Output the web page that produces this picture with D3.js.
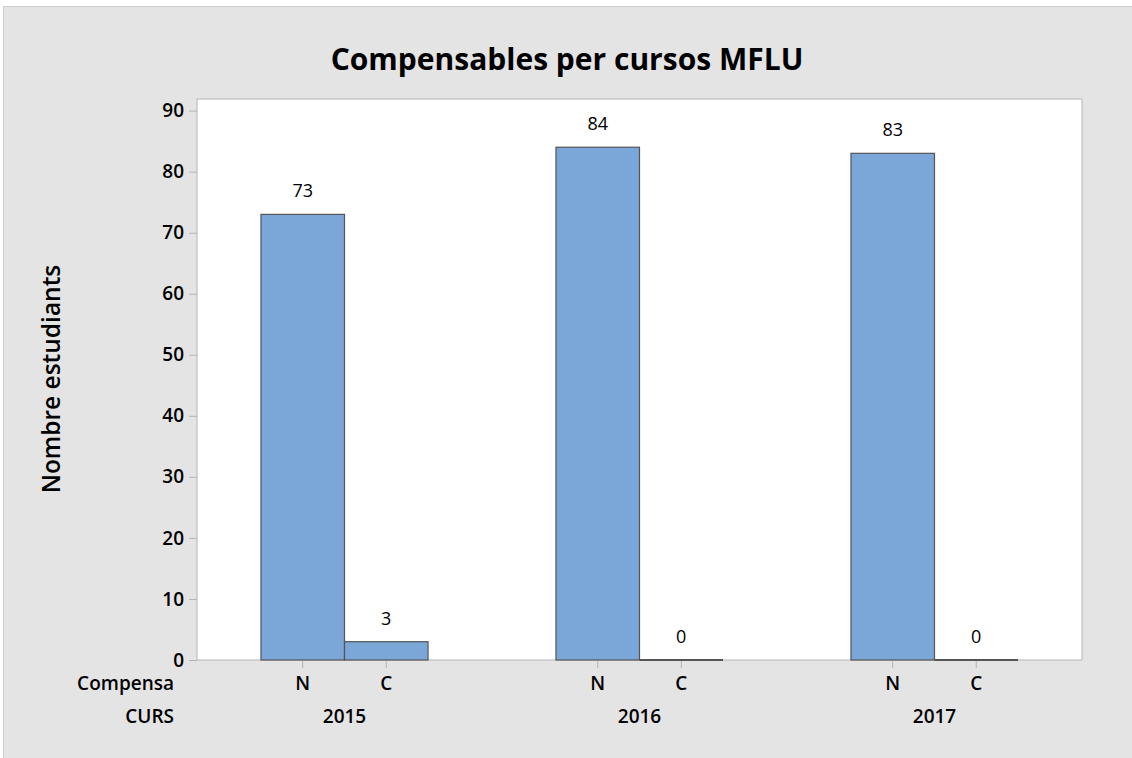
<!DOCTYPE html>
<meta charset="utf-8">
<style>
body { margin: 0; background: #fff; }
text { font-family: "Open Sans", "Noto Sans", sans-serif; fill: #000; }
</style>
<body>
<svg width="1132" height="758"></svg>
<script src="https://cdn.jsdelivr.net/npm/d3@7/dist/d3.min.js"></script>
<script>

var years = ["2015", "2016", "2017"];
var compensa = ["N", "C"];
var countsN = [73, 84, 83];
var countsC = [3, 0, 0];
var yTicks = [0, 10, 20, 30, 40, 50, 60, 70, 80, 90];

var data = [];
years.forEach(function(y, i) {
  data.push({year: y, comp: "N", value: countsN[i]});
  data.push({year: y, comp: "C", value: countsC[i]});
});

var svg = d3.select("svg");
var plotLeft = 197, plotRight = 1082, plotTop = 99, plotBottom = 660;

// background
svg.append("rect")
    .attr("x", 0).attr("y", 0).attr("width", 1132).attr("height", 758)
    .attr("fill", "#fff");
svg.append("rect")
    .attr("x", 3.5).attr("y", 6.5).attr("width", 1140).attr("height", 790)
    .attr("fill", "#e4e4e4")
    .attr("stroke", "#cfcfcf");

svg.append("rect")
    .attr("x", plotLeft).attr("y", plotTop)
    .attr("width", plotRight - plotLeft).attr("height", plotBottom - plotTop)
    .attr("fill", "#fff")
    .attr("stroke", "#b4b4b4");

var x0 = d3.scaleBand().domain(years).range([plotLeft, plotRight]).padding(0);
var x1 = d3.scaleBand().domain(compensa).range([0, x0.bandwidth()])
    .paddingInner(0).paddingOuter(0.766);
var y = d3.scaleLinear().domain([0, 91.9]).range([plotBottom, plotTop]);

// y axis
var yAxis = svg.append("g")
    .attr("transform", "translate(" + plotLeft + ",0)")
    .call(d3.axisLeft(y).tickValues(yTicks).tickSize(8).tickPadding(5));
yAxis.select(".domain").remove();
yAxis.selectAll(".tick line").attr("stroke", "#b4b4b4");
yAxis.selectAll(".tick text")
    .attr("font-size", "19px").attr("font-weight", 600)
    .style("font-family", "'Open Sans', sans-serif").attr("fill", "#000");

// bars
var bars = svg.append("g");
bars.selectAll("rect")
    .data(data)
  .enter().append("rect")
    .attr("x", function(d) { return x0(d.year) + x1(d.comp); })
    .attr("y", function(d) { return y(d.value); })
    .attr("width", x1.bandwidth())
    .attr("height", function(d) { return y(0) - y(d.value); })
    .attr("fill", "#7ba6d8")
    .attr("stroke", "#555")
    .attr("stroke-width", 1.2);

// zero-height bars show as a dark line on the baseline
bars.selectAll("line")
    .data(data.filter(function(d) { return d.value === 0; }))
  .enter().append("line")
    .attr("x1", function(d) { return x0(d.year) + x1(d.comp); })
    .attr("x2", function(d) { return x0(d.year) + x1(d.comp) + x1.bandwidth(); })
    .attr("y1", y(0)).attr("y2", y(0))
    .attr("stroke", "#555")
    .attr("stroke-width", 2);

// value labels
svg.append("g").selectAll("text")
    .data(data)
  .enter().append("text")
    .attr("x", function(d) { return x0(d.year) + x1(d.comp) + x1.bandwidth() / 2; })
    .attr("y", function(d) { return y(d.value) - 17; })
    .attr("text-anchor", "middle")
    .attr("font-size", "18px")
    .text(function(d) { return d.value; });

// x ticks and category labels
var xt = svg.append("g");
data.forEach(function(d) {
  var cx = x0(d.year) + x1(d.comp) + x1.bandwidth() / 2;
  xt.append("line")
      .attr("x1", cx).attr("x2", cx)
      .attr("y1", plotBottom + 1).attr("y2", plotBottom + 8)
      .attr("stroke", "#b4b4b4");
  xt.append("text")
      .attr("x", cx).attr("y", 690)
      .attr("text-anchor", "middle")
      .attr("font-size", "19px").attr("font-weight", 600)
      .text(d.comp);
});
years.forEach(function(yr) {
  xt.append("text")
      .attr("x", x0(yr) + x0.bandwidth() / 2).attr("y", 723)
      .attr("text-anchor", "middle")
      .attr("font-size", "19px").attr("font-weight", 600)
      .text(yr);
});
xt.append("text")
    .attr("x", 174).attr("y", 690)
    .attr("text-anchor", "end")
    .attr("font-size", "19px").attr("font-weight", 600)
    .text("Compensa");
xt.append("text")
    .attr("x", 174).attr("y", 723)
    .attr("text-anchor", "end")
    .attr("font-size", "19px").attr("font-weight", 600)
    .text("CURS");

// title
svg.append("text")
    .attr("x", 567).attr("y", 70)
    .attr("text-anchor", "middle")
    .attr("font-size", "30px").attr("font-weight", 700)
    .text("Compensables per cursos MFLU");

// y label
svg.append("text")
    .attr("transform", "translate(60,379) rotate(-90)")
    .attr("text-anchor", "middle")
    .attr("font-size", "24.5px").attr("font-weight", 600)
    .text("Nombre estudiants");

</script>
</body>
